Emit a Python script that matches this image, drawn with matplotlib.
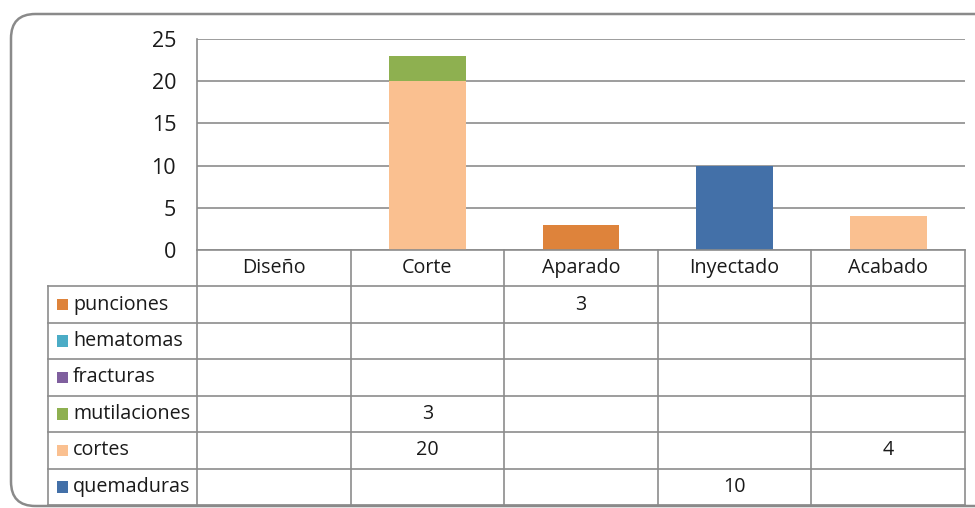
import matplotlib
matplotlib.use("Agg")
import matplotlib.pyplot as plt
from matplotlib.patches import FancyBboxPatch, Rectangle
import numpy as np

categories = ["Diseño", "Corte", "Aparado", "Inyectado", "Acabado"]
series_names = ["punciones", "hematomas", "fracturas", "mutilaciones", "cortes", "quemaduras"]
punciones = [None, None, 3, None, None]
hematomas = [None, None, None, None, None]
fracturas = [None, None, None, None, None]
mutilaciones = [None, 3, None, None, None]
cortes = [None, 20, None, None, 4]
quemaduras = [None, None, None, 10, None]
series_values = [punciones, hematomas, fracturas, mutilaciones, cortes, quemaduras]
series_colors = ["#DE833B", "#4BACC6", "#7F5F9E", "#8EB050", "#FAC090", "#4370A8"]
yticks = [0, 5, 10, 15, 20, 25]

FONT = "Open Sans"
plt.rcParams["font.family"] = [FONT, "DejaVu Sans"]
FS = 14.2
TC = "#1a1a1a"

W, H = 975, 508
fig = plt.figure(figsize=(W / 100, H / 100), dpi=100)

def fx(px):
    return px / W

def fy(py):
    return 1 - py / H

# outer rounded frame
frame = FancyBboxPatch((fx(11), fy(506)), fx(1000) - fx(11), fy(14) - fy(506),
                       boxstyle="round,pad=0,rounding_size=0.025",
                       transform=fig.transFigure, fill=False,
                       edgecolor="#8a8a8a", linewidth=1.8, mutation_aspect=W / H)
fig.add_artist(frame)

# plot area
x0, x1 = 197, 965
ytop, ybot = 39, 250
ax = fig.add_axes([fx(x0), fy(ybot), fx(x1) - fx(x0), fy(ytop) - fy(ybot)])
n = len(categories)
x = np.arange(n)
bottom = np.zeros(n)
# stacking: last series at the bottom
for name, vals, col in reversed(list(zip(series_names, series_values, series_colors))):
    v = np.array([0 if a is None else a for a in vals], dtype=float)
    ax.bar(x, v, width=0.5, bottom=bottom, color=col, edgecolor="none", zorder=3)
    bottom += v
ax.set_xlim(-0.5, n - 0.5)
ax.set_ylim(0, 25)
ax.set_yticks(yticks)
ax.set_yticklabels([str(t) for t in yticks], fontsize=15.5, color=TC)
ax.set_xticks([])
ax.tick_params(axis="y", length=0, pad=15)
ax.grid(axis="y", color="#8c8c8c", linewidth=1.2, zorder=0)
for s in ["top", "right", "bottom"]:
    ax.spines[s].set_visible(False)
ax.spines["left"].set_color("#8c8c8c")
ax.spines["left"].set_linewidth(1.2)

# data table
tx0, tbot = 48, 505
tab = fig.add_axes([fx(tx0), fy(tbot), fx(x1) - fx(tx0), fy(ybot) - fy(tbot)])
colw = (x1 - x0) / n
legw = (x0 - tx0) / colw
tab.set_xlim(-legw, n)
nrows = len(series_names) + 1
tab.set_ylim(nrows, 0)
tab.axis("off")
lc = "#8c8c8c"
lw = 1.2
# horizontal lines
tab.plot([0, n], [0, 0], color=lc, lw=lw, clip_on=False)
for r in range(1, nrows + 1):
    tab.plot([-legw, n], [r, r], color=lc, lw=lw, clip_on=False)
# vertical lines
for c in range(0, n + 1):
    tab.plot([c, c], [0, nrows], color=lc, lw=lw, clip_on=False)
tab.plot([-legw, -legw], [1, nrows], color=lc, lw=lw, clip_on=False)
# header
for i, cat in enumerate(categories):
    tab.text(i + 0.5, 0.5, cat, ha="center", va="center", fontsize=FS, color=TC)
# rows
for r, (name, vals, col) in enumerate(zip(series_names, series_values, series_colors), start=1):
    yc = r + 0.5
    tab.add_patch(Rectangle((-legw + 9 / colw, yc - 0.16), 11 / colw, 0.32,
                            facecolor=col, edgecolor="none", clip_on=False))
    tab.text(-legw + 25 / colw, yc, name, ha="left", va="center", fontsize=FS, color=TC)
    for i, v in enumerate(vals):
        if v is not None:
            tab.text(i + 0.5, yc, str(v), ha="center", va="center", fontsize=FS, color=TC)

fig.savefig("out.png", dpi=100)
